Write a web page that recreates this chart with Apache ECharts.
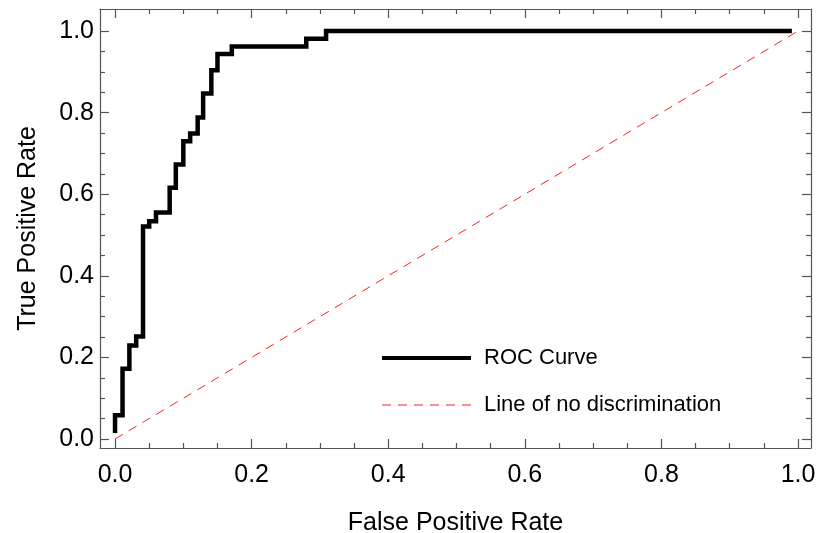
<!DOCTYPE html>
<html>
<head>
<meta charset="utf-8">
<script src="https://cdn.jsdelivr.net/npm/echarts@6/dist/echarts.min.js"></script>
<style>
  html, body { margin: 0; padding: 0; background: #fff; }
  #main { width: 817px; height: 533px; }
</style>
</head>
<body>
<div id="main"></div>
<script>
// ROC corners (curve rises at fpr[i] up to tpr[i])
var fpr = [0, 0, 0.011, 0.021, 0.031, 0.041, 0.050, 0.060, 0.080, 0.089, 0.100, 0.110, 0.121, 0.129, 0.141, 0.150, 0.171, 0.280, 0.309, 0.991];
var tpr = [0.015, 0.058, 0.172, 0.229, 0.251, 0.521, 0.534, 0.555, 0.616, 0.673, 0.730, 0.749, 0.788, 0.847, 0.904, 0.944, 0.962, 0.981, 1.0, 1.0];
var diagX = [0, 1];
var diagY = [0, 1];
var majorTicks = [0, 0.2, 0.4, 0.6, 0.8, 1.0];
var minorTicks = [0.05, 0.1, 0.15, 0.25, 0.3, 0.35, 0.45, 0.5, 0.55, 0.65, 0.7, 0.75, 0.85, 0.9, 0.95];
var seriesNames = ['ROC Curve', 'Line of no discrimination'];

var font = 'Liberation Sans, Arial, sans-serif';
var frameColor = '#555';
var xMin = -0.022, xMax = 1.019;
var yMin = -0.022, yMax = 1.054;

function pairs(xs, ys) {
    return xs.map(function (x, i) { return [x, ys[i]]; });
}

// one axis = one side of the frame, major or minor ticks only
function axis(pos, min, max, ticks, len, withLine, withLabels) {
    var a = {
        type: 'value',
        position: pos,
        min: min,
        max: max,
        splitLine: { show: false },
        axisLine: { show: withLine, onZero: false, lineStyle: { color: frameColor, width: 1.2 } },
        axisTick: {
            show: true,
            inside: true,
            length: len,
            customValues: ticks,
            lineStyle: { color: frameColor, width: 1.2 }
        },
        axisLabel: { show: false }
    };
    if (withLabels) {
        a.axisLabel = {
            show: true,
            customValues: ticks,
            color: '#000',
            fontFamily: font,
            fontSize: 25,
            margin: 15,
            formatter: function (v) { return v.toFixed(1); }
        };
    }
    return a;
}

var xBottom = axis('bottom', xMin, xMax, majorTicks, 9, true, true);
xBottom.name = 'False Positive Rate';
xBottom.nameLocation = 'middle';
xBottom.nameGap = 63;
xBottom.nameTextStyle = { color: '#000', fontFamily: font, fontSize: 25 };

var yLeft = axis('left', yMin, yMax, majorTicks, 9, true, true);
yLeft.axisLabel.margin = 6;
yLeft.name = 'True Positive Rate';
yLeft.nameLocation = 'middle';
yLeft.nameGap = 59;
yLeft.nameTextStyle = { color: '#000', fontFamily: font, fontSize: 25 };

var chart = echarts.init(document.getElementById('main'));
chart.setOption({
    backgroundColor: '#fff',
    animation: false,
    grid: { left: 100, right: 6, top: 9, bottom: 85, containLabel: false, outerBoundsMode: 'none' },
    xAxis: [
        xBottom,
        axis('bottom', xMin, xMax, minorTicks, 5, false, false),
        axis('top', xMin, xMax, majorTicks, 9, true, false),
        axis('top', xMin, xMax, minorTicks, 5, false, false)
    ],
    yAxis: [
        yLeft,
        axis('left', yMin, yMax, minorTicks, 5, false, false),
        axis('right', yMin, yMax, majorTicks, 9, true, false),
        axis('right', yMin, yMax, minorTicks, 5, false, false)
    ],
    legend: {
        orient: 'vertical',
        left: 380,
        top: 347,
        padding: 0,
        itemWidth: 89,
        itemHeight: 20,
        itemGap: 25,
        itemStyle: { opacity: 0 },
        data: [
            { name: seriesNames[0], lineStyle: { width: 4, color: '#000' } },
            { name: seriesNames[1], lineStyle: { width: 1, color: '#ff2020', type: [9, 7] } }
        ],
        textStyle: {
            color: '#000',
            fontFamily: font,
            fontSize: 22,
            lineHeight: 20,
            padding: [0, 0, 0, 8]
        }
    },
    series: [
        {
            name: seriesNames[1],
            type: 'line',
            symbol: 'none',
            showSymbol: false,
            data: pairs(diagX, diagY),
            lineStyle: { color: '#ff2020', width: 1, type: [9, 7] },
            itemStyle: { color: '#ff2020' },
            z: 2
        },
        {
            name: seriesNames[0],
            type: 'line',
            step: 'end',
            symbol: 'none',
            showSymbol: false,
            data: pairs(fpr, tpr),
            lineStyle: { color: '#000', width: 4.5, cap: 'butt', join: 'miter' },
            itemStyle: { color: '#000' },
            z: 3
        }
    ]
});
</script>
</body>
</html>
